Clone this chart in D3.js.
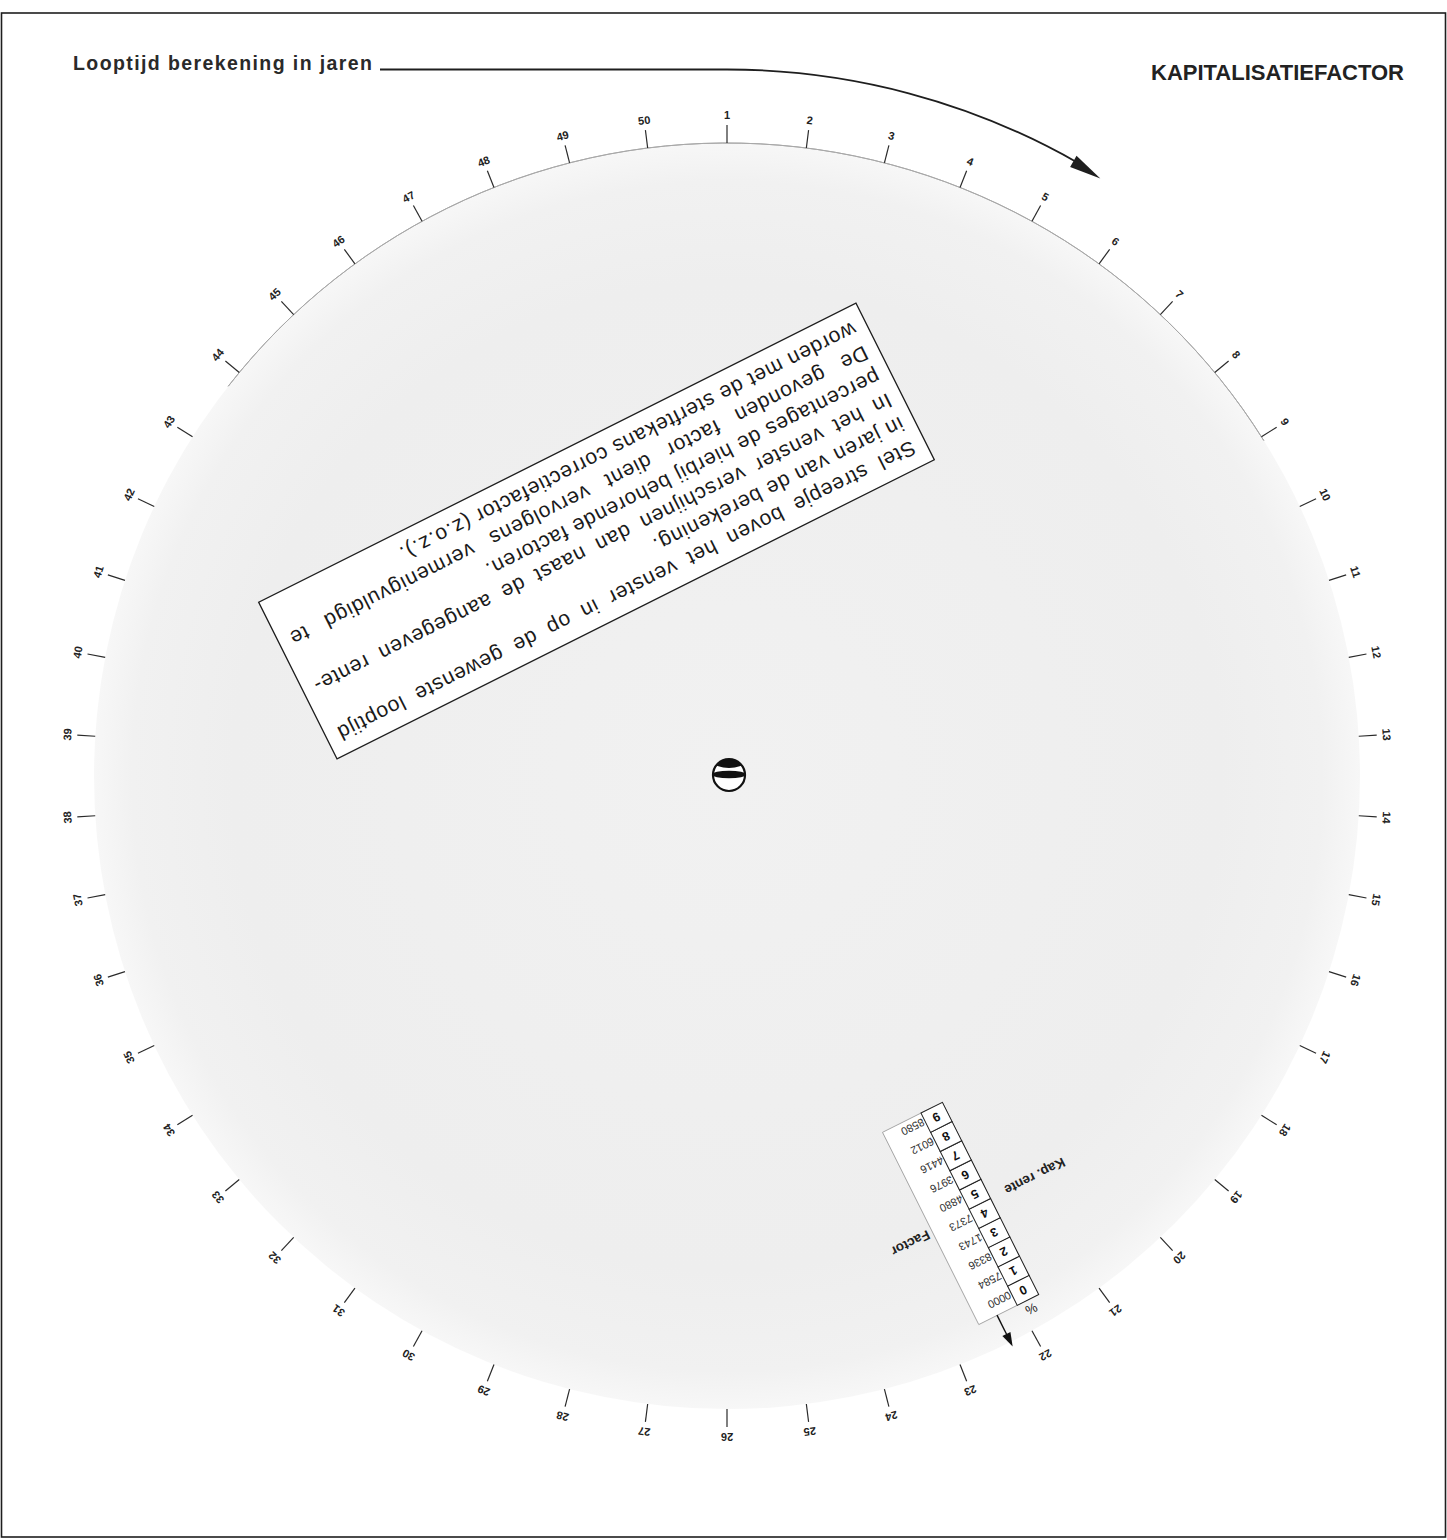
<!DOCTYPE html>
<html><head><meta charset="utf-8">
<script src="https://cdn.jsdelivr.net/npm/d3@7"></script>
<style>
body{margin:0;background:#fff}
svg{display:block}
text{font-family:"Liberation Sans",Arial,Helvetica,sans-serif}
</style>
</head><body>
<svg id="c" width="1447" height="1540"></svg>
<script>
// ---------- data ----------
const yearTicks = [1,2,3,4,5,6,7,8,9,10,11,12,13,14,15,16,17,18,19,20,21,22,23,24,25,
                   26,27,28,29,30,31,32,33,34,35,36,37,38,39,40,41,42,43,44,45,46,47,48,49,50];
const rateDigits = [0,1,2,3,4,5,6,7,8,9];
const factorValues = ["0000","7584","8336","1743","7373","4880","3976","4416","6012","8580"];
const instructionLines = [
  "Stel streepje boven het venster in op de gewenste looptijd",
  "in jaren van de berekening.",
  "In het venster verschijnen dan naast de aangegeven rente-",
  "percentages de hierbij behorende factoren.",
  "De gevonden factor dient vervolgens vermenigvuldigd te",
  "worden met de sterftekans correctiefactor (z.o.z.)."
];
const justifiedLines = [true,false,true,false,true,false];
const titleLeft = "Looptijd berekening in jaren";
const titleRight = "KAPITALISATIEFACTOR";
const rateLabel = "Kap. rente";
const factorLabel = "Factor";
const percentLabel = "%";

// ---------- geometry ----------
const W = 1447, H = 1540;
const cx = 727, cy = 776, R = 633;
const discRotation = 153.4;
const svg = d3.select("#c");
const ink = "#1e1e1e";

const angle = d3.scaleLinear().domain([1, 51]).range([0, 360]);
const pt = (a, r) => [cx + r * Math.sin(a * Math.PI / 180), cy - r * Math.cos(a * Math.PI / 180)];

// frame
svg.append("rect").attr("x", 1.5).attr("y", 13).attr("width", W - 3).attr("height", H - 16)
  .attr("fill", "none").attr("stroke", ink).attr("stroke-width", 1.6);

// disc
const defs = svg.append("defs");
const rg = defs.append("radialGradient").attr("id", "discFill");
rg.append("stop").attr("offset", "0%").attr("stop-color", "#f1f1f1");
rg.append("stop").attr("offset", "78%").attr("stop-color", "#eeeeee");
rg.append("stop").attr("offset", "94%").attr("stop-color", "#f1f1f1");
rg.append("stop").attr("offset", "100%").attr("stop-color", "#f7f7f7");
svg.append("circle").attr("cx", cx).attr("cy", cy).attr("r", R).attr("fill", "url(#discFill)");
// visible edge on top
const edgeArc = d3.arc().innerRadius(R).outerRadius(R)
  .startAngle(-52 * Math.PI / 180).endAngle(58 * Math.PI / 180);
svg.append("path").attr("transform", `translate(${cx},${cy})`).attr("d", edgeArc())
  .attr("fill", "none").attr("stroke", "#a8a8a8").attr("stroke-width", 1);

// ticks + labels
const tg = svg.append("g");
tg.selectAll("line").data(yearTicks).join("line")
  .attr("x1", d => pt(angle(d), R)[0]).attr("y1", d => pt(angle(d), R)[1])
  .attr("x2", d => pt(angle(d), R + 18)[0]).attr("y2", d => pt(angle(d), R + 18)[1])
  .attr("stroke", "#2a2a2a").attr("stroke-width", 1.2);
tg.selectAll("text").data(yearTicks).join("text")
  .attr("transform", d => { const p = pt(angle(d), R + 28); return `translate(${p[0]},${p[1]}) rotate(${angle(d)})`; })
  .attr("text-anchor", "middle").attr("dy", "0.36em")
  .attr("font-size", 11).attr("font-weight", "bold").attr("fill", "#222")
  .text(d => d);

// titles
svg.append("text").attr("x", 73).attr("y", 70).attr("font-size", 19.5).attr("font-weight", "bold")
  .attr("fill", "#2a2a2a").attr("textLength", 299).attr("lengthAdjust", "spacing").text(titleLeft);
svg.append("text").attr("x", 1404).attr("y", 79.5).attr("text-anchor", "end").attr("font-size", 22)
  .attr("font-weight", "bold").attr("fill", "#222").text(titleRight);

// title line with arc arrow
const rA = cy - 69.5;
const arcEnd = pt(29.8, rA);
svg.append("path")
  .attr("d", `M380,69.5 H${cx} A${rA},${rA} 0 0 1 ${arcEnd[0]},${arcEnd[1]}`)
  .attr("fill", "none").attr("stroke", ink).attr("stroke-width", 1.8);
const tip = pt(32.0, rA - 2), b1 = pt(29.4, rA - 7.5), b2 = pt(29.4, rA + 5.5);
svg.append("path").attr("d", `M${tip[0]},${tip[1]} L${b1[0]},${b1[1]} L${b2[0]},${b2[1]} Z`).attr("fill", ink);

// ---------- rotating disc content ----------
const disc = svg.append("g").attr("transform", `translate(${cx},${cy}) rotate(${discRotation})`);

// instruction box
const box = { x: -327, y: 190, w: 668, h: 175 };
disc.append("rect").attr("x", box.x).attr("y", box.y).attr("width", box.w).attr("height", box.h)
  .attr("fill", "#fff").attr("stroke", ink).attr("stroke-width", 1.3);
const lineY = d3.scaleLinear().domain([0, 5]).range([218, 350.5]);
const textX0 = box.x + 12, textW = box.w - 24;
instructionLines.forEach((line, i) => {
  const t = disc.append("text").attr("x", textX0).attr("y", lineY(i))
    .attr("font-size", 21).attr("fill", "#1a1a1a")
    .style("letter-spacing", "0.9px").text(line);
  if (justifiedLines[i]) {
    const nat = t.node().getComputedTextLength();
    const spaces = (line.match(/ /g) || []).length;
    const ws = Math.max(0, (textW - nat) / spaces);
    t.style("word-spacing", ws + "px");
    const after = t.node().getComputedTextLength();
    if (Math.abs(after - nat) < 1 && ws > 1) {
      t.style("word-spacing", null).attr("textLength", textW).attr("lengthAdjust", "spacing");
    }
  }
});

// window
const boxY = d3.scaleBand().domain(rateDigits).range([-603.25, -388.25]);
const colX = -46.5, colW = 24;
disc.append("rect").attr("x", colX).attr("y", -603.25).attr("width", 67).attr("height", 215)
  .attr("fill", "#fff").attr("stroke", "#9a9a9a").attr("stroke-width", 0.8);
disc.selectAll("rect.cell").data(rateDigits).join("rect").attr("class", "cell")
  .attr("x", colX).attr("y", d => boxY(d)).attr("width", colW).attr("height", boxY.bandwidth())
  .attr("fill", "#fff").attr("stroke", "#222").attr("stroke-width", 1);
disc.selectAll("text.dig").data(rateDigits).join("text").attr("class", "dig")
  .attr("x", colX + colW / 2).attr("y", d => boxY(d) + boxY.bandwidth() / 2).attr("dy", "0.36em")
  .attr("text-anchor", "middle").attr("font-size", 12.5).attr("font-weight", "bold").attr("fill", "#111")
  .text(d => d);
disc.selectAll("text.val").data(factorValues).join("text").attr("class", "val")
  .attr("x", -9).attr("y", (d, i) => boxY(rateDigits[i]) + boxY.bandwidth() / 2 + 2).attr("dy", "0.36em")
  .attr("text-anchor", "middle").attr("font-size", 11).attr("fill", "#333")
  .text(d => d);
disc.selectAll("text.com").data(factorValues).join("text").attr("class", "com")
  .attr("x", -21).attr("y", (d, i) => boxY(rateDigits[i]) + boxY.bandwidth() / 2 + 5)
  .attr("font-size", 10).attr("fill", "#333").text(",");

// index arrow
disc.append("line").attr("x1", 0).attr("y1", -603).attr("x2", 0).attr("y2", -626)
  .attr("stroke", "#111").attr("stroke-width", 1.4);
disc.append("path").attr("d", "M0,-638 L-4.5,-624 L4.5,-624 Z").attr("fill", "#111");

disc.append("text").attr("x", -33.5).attr("y", -613).attr("dy", "0.36em").attr("text-anchor", "middle")
  .attr("font-size", 13).attr("fill", "#222").text(percentLabel);
disc.append("text").attr("x", -96).attr("y", -496).attr("dy", "0.36em").attr("text-anchor", "middle")
  .attr("font-size", 13.5).attr("font-weight", "bold").attr("fill", "#222").text(rateLabel);
disc.append("text").attr("x", 45).attr("y", -500).attr("dy", "0.36em").attr("text-anchor", "middle")
  .attr("font-size", 13.5).attr("font-weight", "bold").attr("fill", "#222").text(factorLabel);

// rivet
const rv = { x: 729, y: 775, r: 16 };
defs.append("clipPath").attr("id", "rivClip").append("circle").attr("cx", rv.x).attr("cy", rv.y).attr("r", rv.r);
svg.append("circle").attr("cx", rv.x).attr("cy", rv.y).attr("r", rv.r).attr("fill", "#fff");
const rvg = svg.append("g").attr("clip-path", "url(#rivClip)");
rvg.append("ellipse").attr("cx", rv.x).attr("cy", rv.y - 13).attr("rx", 15).attr("ry", 6).attr("fill", "#111");
rvg.append("ellipse").attr("cx", rv.x).attr("cy", rv.y - 0.5).attr("rx", 17).attr("ry", 3.8).attr("fill", "#111");
svg.append("circle").attr("cx", rv.x).attr("cy", rv.y).attr("r", rv.r).attr("fill", "none")
  .attr("stroke", "#111").attr("stroke-width", 2.2);
</script>
</body></html>
